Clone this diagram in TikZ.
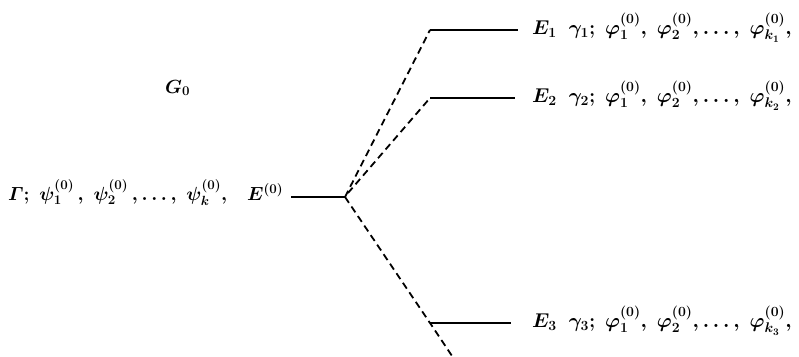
\RequirePackage{fix-cm}
\documentclass[tikz,border=0pt]{standalone}
\usepackage{amsmath}
\usepackage{bm}
\tikzset{
  lvl/.style={line width=1.4pt},
  dsh/.style={line width=1.8pt, dash pattern=on 7pt off 4.5pt},
  lbl/.style={inner sep=0pt, anchor=base west, font=\fontsize{19}{23}\selectfont\boldmath},
  rlbl/.style={lbl, font=\fontsize{20}{24}\selectfont\boldmath},
}
\begin{document}
\begin{tikzpicture}[x=1pt,y=-1pt]
\useasboundingbox (0,0) rectangle (799,356);
% coordinates of levels
\coordinate (a0) at (291,197);
\coordinate (j) at (345,197);
\coordinate (j2) at (348,193);
\coordinate (l1a) at (430,30);
\coordinate (l1b) at (518,30);
\coordinate (l2a) at (430,98);
\coordinate (l2b) at (515,98);
\coordinate (l3a) at (430,323);
\coordinate (l3b) at (511,323);
\coordinate (bot) at (452,356);
% labels
\node[lbl] (g0) at (165,93) {$G_0$};
\node[lbl] (gam) at (8,200) {$\varGamma;\;\psi_1^{(0)}\,,\;\psi_2^{(0)}\,,\ldots,\;\psi_k^{(0)},$};
\node[lbl] (e0) at (247,200) {$E^{(0)}$};
\node[rlbl] (t1) at (532,34) {$E_1\ \ \gamma_1;\ \varphi_1^{(0)},\ \varphi_2^{(0)},\ldots,\ \varphi_{k_1}^{(0)},$};
\node[rlbl] (t2) at (532,102) {$E_2\ \ \gamma_2;\ \varphi_1^{(0)},\ \varphi_2^{(0)},\ldots,\ \varphi_{k_2}^{(0)},$};
\node[rlbl] (t3) at (532,327) {$E_3\ \ \gamma_3;\ \varphi_1^{(0)},\ \varphi_2^{(0)},\ldots,\ \varphi_{k_3}^{(0)},$};
% levels
\draw[lvl] (a0) -- (j);
\draw[lvl] (l1a) -- (l1b);
\draw[lvl] (l2a) -- (l2b);
\draw[lvl] (l3a) -- (l3b);
% dashed connectors
\draw[dsh] (j) -- (l1a);
\draw[dsh] (j2) -- (l2a);
\draw[dsh] (j) -- (l3a) -- (bot);
\end{tikzpicture}
\end{document}
